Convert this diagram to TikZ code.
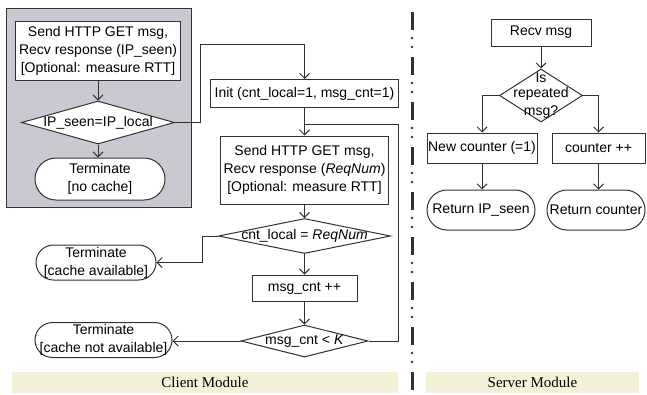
\documentclass[tikz,border=0pt]{standalone}
\usepackage{fontspec}
\setmainfont{Liberation Sans}
\newfontfamily\modfont{Liberation Serif}
\usepackage{xcolor}
\usepackage{tikz}
\usetikzlibrary{arrows.meta,positioning,shapes.geometric}
\definecolor{linegray}{RGB}{50,50,50}
\definecolor{panelgray}{RGB}{201,202,209}
\definecolor{softyellow}{RGB}{243,241,214}

\begin{document}
\begin{tikzpicture}[
x=0.6pt,y=-0.6pt,
font=\fontsize{8.4}{10.8}\selectfont,
box/.style={draw=linegray,fill=white,align=center,inner sep=0pt,line width=0.6pt},
cond/.style={draw=linegray,fill=white,diamond,inner sep=0pt,line width=0.6pt},
term/.style={draw=linegray,fill=white,align=center,inner sep=0pt,rounded corners=#1,line width=0.6pt},
band/.style={fill=softyellow,inner sep=0pt,font=\modfont\fontsize{9}{11}\selectfont},
line/.style={linegray,line width=0.6pt},
arr/.style={line,-{Straight Barb[length=3pt,width=6pt]}}
]
\useasboundingbox (0,0) rectangle (647,394);
% client side
\node[fill=panelgray,draw=linegray,line width=0.6pt,minimum width=111pt,minimum height=119.4pt] (cachepanel) at (98.5,107.5) {};
\node[box,minimum width=99pt,minimum height=35.4pt] (send1) at (98,50.5) {Send HTTP GET msg,\\Recv response (IP\_seen)\\{[Optional: measure RTT]}};
\node[cond,minimum width=91.8pt,minimum height=25.8pt] (check1) at (98,122.5) {\makebox[0pt]{IP\_seen=IP\_local}};
\node[term=12.6pt,minimum width=78pt,minimum height=25.2pt] (stop1) at (100,179) {Terminate\\{[no cache]}};
\node[box,minimum width=112.8pt,minimum height=16.8pt] (init) at (304.5,93.5) {Init (cnt\_local=1, msg\_cnt=1)};
\node[box,minimum width=100.8pt,minimum height=40.8pt] (send2) at (304.5,170) {Send HTTP GET msg,\\Recv response (\textit{ReqNum})\\{[Optional: measure RTT]}};
\node[cond,minimum width=103.2pt,minimum height=21pt] (check2) at (304.5,236) {\makebox[0pt]{cnt\_local = \textit{ReqNum}}};
\node[term=10.5pt,minimum width=72pt,minimum height=21pt] (stop2) at (96,262.5) {Terminate\\{[cache available]}};
\node[box,minimum width=63pt,minimum height=15.6pt] (inc) at (304.5,288) {msg\_cnt ++};
\node[cond,minimum width=76.2pt,minimum height=19.2pt] (check3) at (304.5,341) {\makebox[0pt]{msg\_cnt < \textit{K}}};
\node[term=10.5pt,minimum width=82.2pt,minimum height=21pt] (stop3) at (103.5,340) {Terminate\\{[cache not available]}};
\node[band,minimum width=231.6pt,minimum height=12.6pt] (client) at (205,382.5) {Client Module};
\coordinate (bend1) at (200,44);
\coordinate (loop) at (398,124);
\draw[arr] (send1) -- (check1);
\draw[arr] (check1.south) -- (check1.south |- stop1.north);
\draw[arr] (check1.east) -| (bend1) -| (init.north);
\draw[arr] (init) -- (send2);
\draw[arr] (send2) -- (check2);
\draw[arr] (check2.west) -- ++(-16,0) |- (stop2.east);
\draw[arr] (check2) -- (inc);
\draw[arr] (inc) -- (check3);
\draw[arr] (check3.west) -- (check3.west -| stop3.east);
\draw[line] (check3.east) -| (loop) -- (loop -| init.south);
% separator
\coordinate (septop) at (412,12);
\coordinate (dottop) at (412,38);
\coordinate (sepbot) at (412,392);
\draw[linegray,line width=1.8pt,dash pattern=on 10.8pt off 16.2pt] (septop) -- (sepbot);
\draw[linegray,line width=1.7pt,line cap=round,dash pattern=on 0pt off 5.4pt on 0pt off 21.6pt] (dottop) -- (sepbot);
% server side
\node[box,minimum width=60pt,minimum height=16.2pt] (recv) at (541,32.5) {Recv msg};
\node[cond,minimum width=49.8pt,minimum height=31.8pt] (repeat) at (541,95.5) {\makebox[0pt]{\shortstack{Is\\repeated\\msg?}}};
\node[box,minimum width=66pt,minimum height=18pt] (newcnt) at (482,148) {New counter (=1)};
\node[box,minimum width=55.8pt,minimum height=18pt] (inccnt) at (598.5,148) {counter ++};
\node[term=12pt,minimum width=64.8pt,minimum height=24pt] (ret1) at (481,210) {Return IP\_seen};
\node[term=12pt,minimum width=58.8pt,minimum height=24pt] (ret2) at (596,210) {Return counter};
\node[band,minimum width=127.8pt,minimum height=12.6pt] (server) at (532.5,382.5) {Server Module};
\draw[arr] (recv) -- (repeat);
\draw[arr] (repeat.west) -| (newcnt.north);
\draw[arr] (repeat.east) -| (inccnt.north);
\draw[arr] (newcnt.south) -- (newcnt.south |- ret1.north);
\draw[arr] (inccnt.south) -- (inccnt.south |- ret2.north);
\end{tikzpicture}
\end{document}
